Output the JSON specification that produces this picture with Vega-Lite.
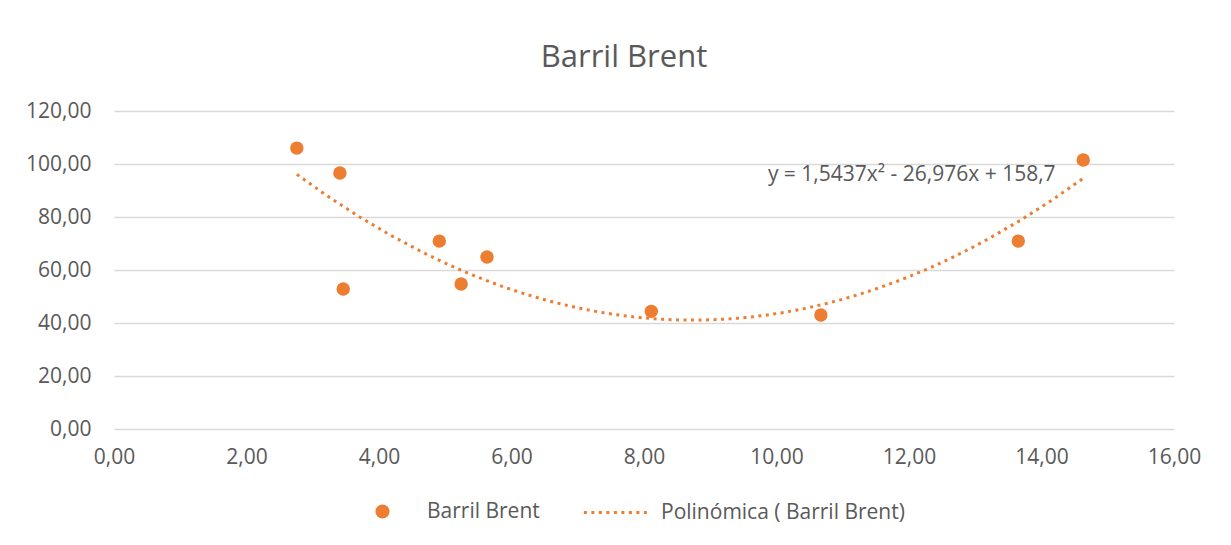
{
  "$schema": "https://vega.github.io/schema/vega-lite/v6.json",
  "autosize": {"type": "none"},
  "width": 1060,
  "height": 318,
  "padding": {"left": 114, "top": 111, "right": 57, "bottom": 116},
  "background": "white",
  "config": {
    "locale": {"number": {"decimal": ",", "thousands": ".", "grouping": [3], "currency": ["", " €"]}},
    "font": "Open Sans",
    "view": {"stroke": null},
    "axis": {"labelFont": "Open Sans", "labelFontSize": 21, "labelColor": "#595959", "domain": false, "ticks": false, "title": null},
    "legend": {"labelFont": "Open Sans", "labelFontSize": 21, "labelColor": "#595959", "title": null, "orient": "none", "padding": 0, "labelLimit": 400}
  },
  "title": {"text": "Barril Brent", "fontSize": 31, "font": "Open Sans", "fontWeight": "normal", "color": "#595959", "anchor": "middle", "frame": "group", "dx": -20, "baseline": "alphabetic", "offset": 2},
  "data": {"values": [
    {"x": 2.76, "y": 106.0},
    {"x": 3.41, "y": 96.6},
    {"x": 3.46, "y": 52.8},
    {"x": 4.91, "y": 70.9},
    {"x": 5.24, "y": 54.7},
    {"x": 5.63, "y": 64.9},
    {"x": 8.11, "y": 44.4},
    {"x": 10.67, "y": 43.0},
    {"x": 13.65, "y": 70.9},
    {"x": 14.63, "y": 101.5}
  ]},
  "layer": [
    {
      "mark": {"type": "point", "filled": true, "opacity": 1, "size": 180, "shape": "circle"},
      "encoding": {
        "x": {"field": "x", "type": "quantitative", "scale": {"domain": [0, 16], "nice": false, "zero": false},
              "axis": {"values": [0, 2, 4, 6, 8, 10, 12, 14, 16], "format": ".2f", "grid": false, "labelPadding": 17, "labelFlush": false}},
        "y": {"field": "y", "type": "quantitative", "scale": {"domain": [0, 120], "nice": false},
              "axis": {"values": [0, 20, 40, 60, 80, 100, 120], "format": ".2f", "grid": true, "gridColor": "#D9D9D9", "gridWidth": 1.3, "labelPadding": 23}},
        "color": {"datum": "Barril Brent", "type": "nominal", "scale": {"range": ["#ED7D31"]},
                  "legend": {"symbolType": "circle", "symbolSize": 200, "labelOffset": 34, "symbolOpacity": 1, "legendX": 258, "legendY": 390}}
      }
    },
    {
      "transform": [{"regression": "y", "on": "x", "method": "poly", "order": 2}],
      "mark": {"type": "line", "color": "#ED7D31", "strokeWidth": 3},
      "encoding": {
        "x": {"field": "x", "type": "quantitative"},
        "y": {"field": "y", "type": "quantitative"},
        "strokeDash": {"datum": "Polinómica ( Barril Brent)", "type": "nominal", "scale": {"range": [[3, 4.5]]},
                       "legend": {"symbolType": "stroke", "symbolStrokeColor": "#ED7D31", "symbolStrokeWidth": 3, "symbolSize": 4000, "labelOffset": 12, "legendX": 468, "legendY": 368}}
      }
    },
    {
      "data": {"values": [{"x": 9.87, "y": 95.8, "label": "y = 1,5437x² - 26,976x + 158,7"}]},
      "mark": {"type": "text", "align": "left", "baseline": "middle", "font": "Open Sans", "fontSize": 21, "color": "#595959"},
      "encoding": {
        "x": {"field": "x", "type": "quantitative"},
        "y": {"field": "y", "type": "quantitative"},
        "text": {"field": "label"}
      }
    }
  ]
}
